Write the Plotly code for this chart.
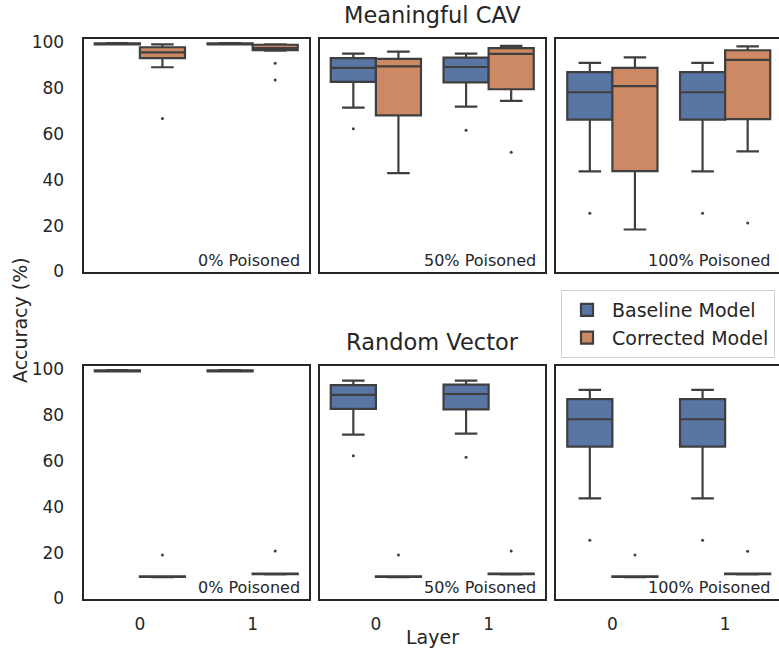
import plotly.graph_objects as go

# ---------------- data ----------------
layers = [0, 1]
panels = ["0% Poisoned", "50% Poisoned", "100% Poisoned"]
row_titles = ["Meaningful CAV", "Random Vector"]
models = ["Baseline Model", "Corrected Model"]
yticks = [0, 20, 40, 60, 80, 100]

# Baseline model stats per panel (same for both rows): [layer0, layer1]
base_q1 = [[99.0, 99.0], [82.6, 82.4], [66.2, 66.2]]
base_med = [[99.2, 99.2], [88.7, 89.1], [78.1, 78.1]]
base_q3 = [[99.4, 99.4], [93.0, 93.2], [86.9, 86.9]]
base_lo = [[98.9, 98.9], [71.4, 71.8], [43.6, 43.6]]
base_hi = [[99.5, 99.5], [94.9, 94.9], [90.9, 90.9]]
base_out = [[[], []], [[62.2], [61.5]], [[25.4], [25.4]]]

# Corrected model, Meaningful CAV
cav_q1 = [[93.0, 96.4], [68.0, 79.4], [43.7, 66.4]]
cav_med = [[95.5, 97.3], [89.4, 94.8], [80.8, 92.2]]
cav_q3 = [[97.7, 98.8], [92.6, 97.3], [88.7, 96.4]]
cav_lo = [[89.0, 96.2], [42.9, 74.3], [18.3, 52.3]]
cav_hi = [[99.0, 99.0], [95.8, 98.3], [93.3, 98.1]]
cav_out = [[[66.7], [90.7, 83.4]], [[], [52.0]], [[], [21.1]]]

# Corrected model, Random Vector
rv_q1 = [[9.4, 10.6], [9.4, 10.6], [9.4, 10.6]]
rv_med = [[9.5, 10.7], [9.5, 10.7], [9.5, 10.7]]
rv_q3 = [[9.6, 10.8], [9.6, 10.8], [9.6, 10.8]]
rv_lo = [[9.3, 10.5], [9.3, 10.5], [9.3, 10.5]]
rv_hi = [[9.7, 10.9], [9.7, 10.9], [9.7, 10.9]]
rv_out = [[[18.9], [20.7]], [[18.9], [20.7]], [[18.9], [20.6]]]

# ---------------- style ----------------
W, H = 779, 653
colors = ["#5875a4", "#cc8963"]
line_col = "#3f3f3f"
frame_col = "#262626"
font = "DejaVu Sans"
txt_col = "#262626"

col_px = [(83.5, 309.0), (319.5, 545.0), (556.0, 779.0)]
row_px = [(39.0, 271.5), (366.0, 598.5)]
unit_px = (309.0 - 83.5) / 2.0
offsets = [-0.2, 0.2]

fig = go.Figure()
layout = dict(width=W, height=H,
              margin=dict(l=0, r=0, t=0, b=0, pad=0, autoexpand=False),
              plot_bgcolor="white", paper_bgcolor="white",
              boxmode="overlay", showlegend=True)

annotations = []
rows_stats = [
    (cav_q1, cav_med, cav_q3, cav_lo, cav_hi, cav_out),
    (rv_q1, rv_med, rv_q3, rv_lo, rv_hi, rv_out),
]

ax = 0
for r in range(2):
    for c in range(3):
        ax += 1
        xname = "x" if ax == 1 else f"x{ax}"
        yname = "y" if ax == 1 else f"y{ax}"
        x0, x1 = col_px[c]
        y0, y1 = row_px[r]
        xr = [-0.5, -0.5 + (x1 - x0) / unit_px]
        yr = [0, 101.3]
        stats_sets = [
            (base_q1[c], base_med[c], base_q3[c], base_lo[c], base_hi[c], base_out[c]),
            tuple(s[c] for s in rows_stats[r]),
        ]
        for m in range(2):
            q1, med, q3, lo, hi, outs = stats_sets[m]
            xs = [l + offsets[m] for l in layers]
            fig.add_trace(go.Box(
                x=xs, q1=q1, median=med, q3=q3, lowerfence=lo, upperfence=hi,
                width=0.4, whiskerwidth=0.5, boxpoints=False,
                fillcolor=colors[m], line=dict(color=line_col, width=2.2),
                name=models[m], legendgroup=models[m],
                showlegend=(ax == 1), xaxis=xname, yaxis=yname,
                hoverinfo="skip",
            ))
            ox, oy = [], []
            for li, l in enumerate(layers):
                for v in outs[li]:
                    ox.append(l + offsets[m])
                    oy.append(v)
            if ox:
                fig.add_trace(go.Scatter(
                    x=ox, y=oy, mode="markers",
                    marker=dict(size=3, color=line_col),
                    showlegend=False, xaxis=xname, yaxis=yname, hoverinfo="skip"))
        xkey = "xaxis" if ax == 1 else f"xaxis{ax}"
        ykey = "yaxis" if ax == 1 else f"yaxis{ax}"
        layout[xkey] = dict(
            domain=[x0 / W, x1 / W], range=xr, anchor=yname, automargin=False,
            tickvals=layers, ticktext=[str(l) for l in layers],
            showticklabels=(r == 1), showgrid=False, zeroline=False,
            showline=True, mirror=True, linecolor=frame_col, linewidth=2,
            ticks="", ticklabelstandoff=9,
            tickfont=dict(family=font, size=17, color=txt_col),
        )
        layout[ykey] = dict(
            domain=[1 - y1 / H, 1 - y0 / H], range=yr, anchor=xname, automargin=False,
            tickvals=yticks, showticklabels=(c == 0), showgrid=False,
            zeroline=False, showline=True, mirror=(c != 2),
            linecolor=frame_col, linewidth=2, ticks="", ticklabelstandoff=14,
            tickfont=dict(family=font, size=17, color=txt_col),
        )
        annotations.append(dict(
            text=panels[c], xref="paper", yref="paper",
            x=(x1 - 7) / W, y=1 - (y1 - 11.5) / H, xanchor="right", yanchor="middle",
            showarrow=False, font=dict(family=font, size=16, color=txt_col)))

for r in range(2):
    annotations.append(dict(
        text=row_titles[r], xref="paper", yref="paper",
        x=432 / W, y=1 - (row_px[r][0] - 24) / H, xanchor="center", yanchor="middle",
        showarrow=False, font=dict(family=font, size=22.5, color=txt_col)))

annotations.append(dict(text="Layer", xref="paper", yref="paper",
                        x=432 / W, y=1 - 637 / H, xanchor="center", yanchor="middle",
                        showarrow=False, font=dict(family=font, size=19, color=txt_col)))
annotations.append(dict(text="Accuracy (%)", xref="paper", yref="paper",
                        x=20 / W, y=1 - 320 / H, xanchor="center", yanchor="middle",
                        textangle=-90, showarrow=False,
                        font=dict(family=font, size=19, color=txt_col)))

layout["annotations"] = annotations
layout["legend"] = dict(
    x=775 / W, y=1 - 290 / H, xanchor="right", yanchor="top",
    bgcolor="white", bordercolor="#d0d0d0", borderwidth=1,
    font=dict(family=font, size=19, color=txt_col), tracegroupgap=0,
    itemwidth=40,
)
fig.update_layout(**layout)
fig.write_html("out.html")
